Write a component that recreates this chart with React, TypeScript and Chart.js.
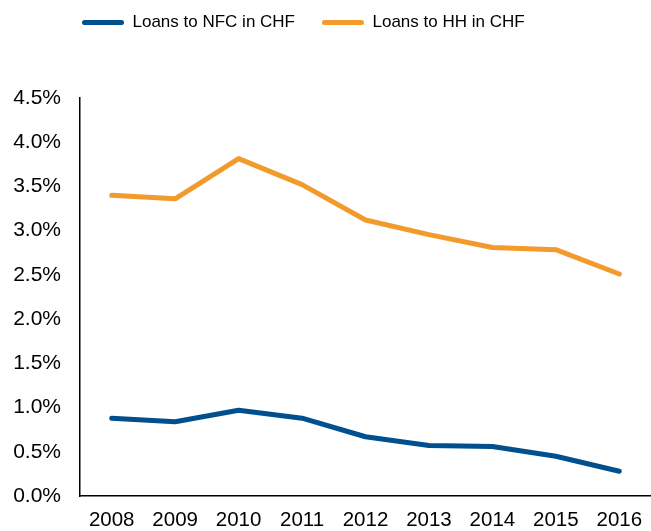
import React, { useEffect, useRef } from "react";
import { Chart, registerables } from "chart.js";

Chart.register(...registerables);

const years = ["2008", "2009", "2010", "2011", "2012", "2013", "2014", "2015", "2016"];
const nfcValues = [0.88, 0.84, 0.97, 0.88, 0.67, 0.57, 0.56, 0.45, 0.28];
const hhValues = [3.40, 3.36, 3.815, 3.52, 3.12, 2.955, 2.81, 2.785, 2.51];
const yTicks = [0, 0.5, 1, 1.5, 2, 2.5, 3, 3.5, 4, 4.5];

const BLUE = "#00508F";
const ORANGE = "#F39A2C";
const FONT = "'Liberation Sans', Arial, sans-serif";

export default function App() {
  const ref = useRef<HTMLCanvasElement | null>(null);

  useEffect(() => {
    if (!ref.current) return;
    const legendTweak = {
      id: "legendTweak",
      beforeInit(chart: any) {
        const lg = chart.legend;
        if (!lg) return;
        const origFit = lg.fit;
        lg.fit = function () {
          origFit.call(this);
          this.height = 98;
        };
      },
      beforeDraw(chart: any) {
        const lg = chart.legend;
        if (!lg) return;
        lg.left = 55;
        lg.right = 651;
        lg.top = -13;
      },
    };

    const chart = new Chart(ref.current, {
      type: "line",
      data: {
        labels: years,
        datasets: [
          {
            label: "Loans to NFC in CHF",
            data: nfcValues,
            borderColor: BLUE,
            backgroundColor: BLUE,
            borderWidth: 5,
            pointRadius: 0,
            tension: 0,
            borderCapStyle: "round",
            borderJoinStyle: "round",
          },
          {
            label: "Loans to HH in CHF",
            data: hhValues,
            borderColor: ORANGE,
            backgroundColor: ORANGE,
            borderWidth: 5,
            pointRadius: 0,
            tension: 0,
            borderCapStyle: "round",
            borderJoinStyle: "round",
          },
        ],
      },
      options: {
        responsive: false,
        animation: false,
        layout: { padding: { left: 0, top: 0, bottom: 0, right: -2 } },
        plugins: {
          tooltip: { enabled: false },
          legend: {
            display: true,
            position: "top",
            align: "start",
            labels: {
              boxWidth: 42,
              boxHeight: 5,
              padding: 27,
              color: "#000",
              font: { family: FONT, size: 17 },
              generateLabels(chart: any) {
                const items = Chart.defaults.plugins.legend.labels.generateLabels(chart);
                return items.map((it: any) => ({
                  ...it,
                  lineWidth: 0,
                  borderRadius: 2.5,
                }));
              },
            },
          },
        },
        scales: {
          x: {
            offset: true,
            afterFit(s: any) {
              s.height = 35;
              s.paddingLeft = 0;
              s.paddingRight = 0;
            },
            grid: { display: false, drawTicks: false },
            border: { display: true, color: "#000", width: 1.5 },
            ticks: {
              color: "#000",
              padding: 14.5,
              font: { family: FONT, size: 20.5, lineHeight: 1 },
              maxRotation: 0,
              autoSkip: false,
            },
          },
          y: {
            min: 0,
            max: 4.5,
            afterFit(s: any) {
              s.width = 80;
            },
            afterBuildTicks(axis: any) {
              axis.ticks = yTicks.map((v) => ({ value: v }));
            },
            grid: { display: false, drawTicks: false },
            border: { display: true, color: "#000", width: 1.5 },
            ticks: {
              color: "#000",
              padding: 19,
              font: { family: FONT, size: 21 },
              callback: (v: any) => Number(v).toFixed(1) + "%",
            },
          },
        },
      },
      plugins: [legendTweak],
    } as any);
    return () => chart.destroy();
  }, []);

  return (
    <div style={{ position: "absolute", left: 0, top: 0, width: 651, height: 531, background: "#fff" }}>
      <canvas ref={ref} width={651} height={531} style={{ display: "block" }} />
    </div>
  );
}
